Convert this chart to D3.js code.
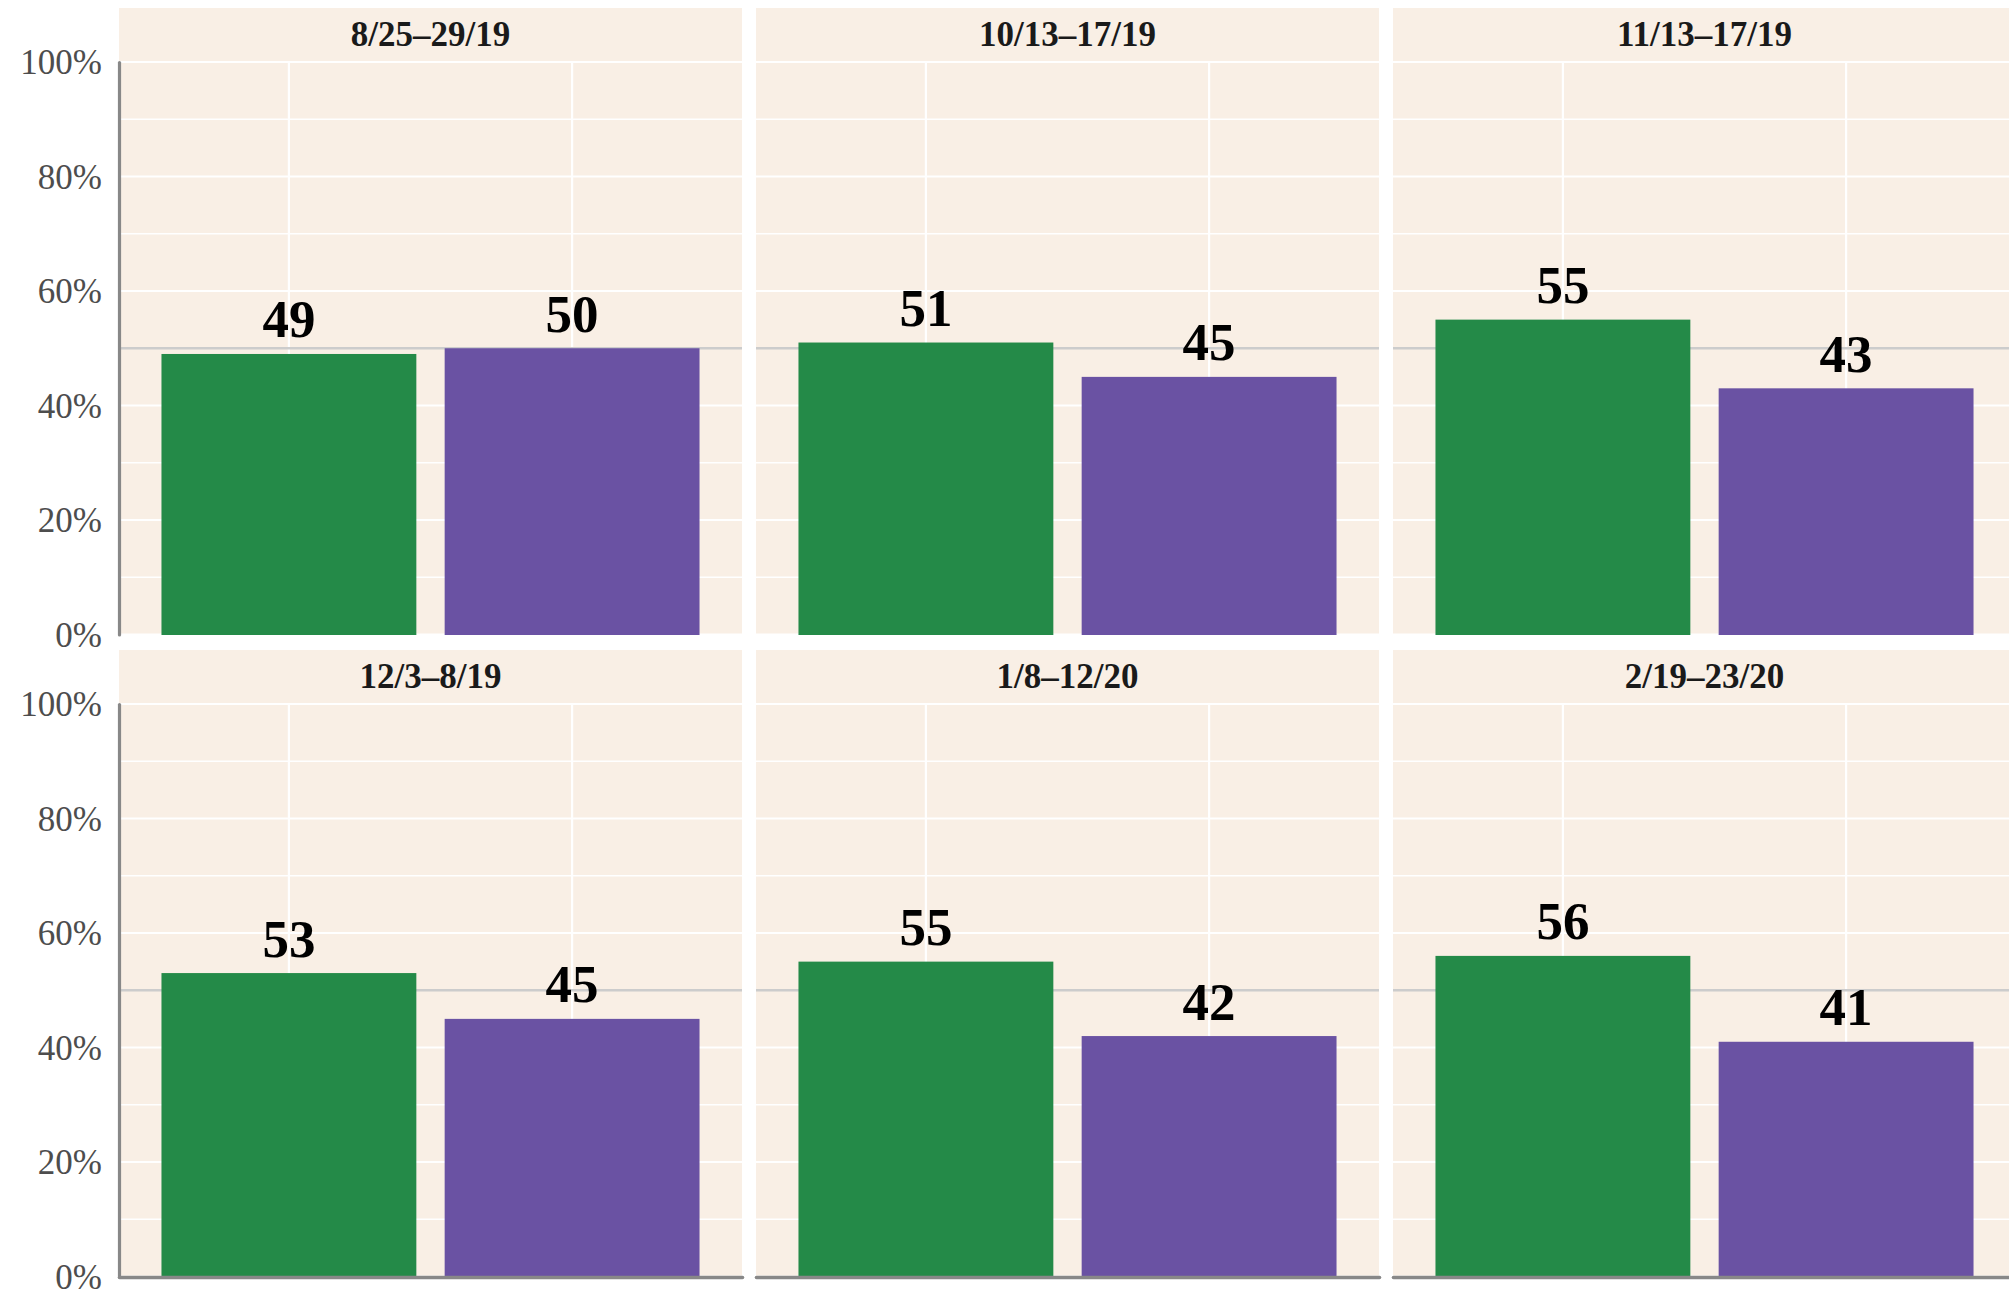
<!DOCTYPE html>
<html>
<head>
<meta charset="utf-8">
<script src="https://cdn.jsdelivr.net/npm/d3@7"></script>
<style>
  html, body { margin: 0; padding: 0; background: #ffffff; }
  svg { display: block; }
</style>
</head>
<body>
<svg id="chart" width="2009" height="1290"></svg>
<script>
// Survey waves, one small panel each
const periods = ["8/25–29/19", "10/13–17/19", "11/13–17/19", "12/3–8/19", "1/8–12/20", "2/19–23/20"];
const seriesKeys = ["first", "second"];
const firstValues = [49, 51, 55, 53, 55, 56];
const secondValues = [50, 45, 43, 45, 42, 41];
const yTicks = [0, 20, 40, 60, 80, 100];
const yMinorTicks = [10, 30, 50, 70, 90];
const referenceLevel = 50;

const colors = { first: "#248a48", second: "#6a52a3" };
const panelBg = "#f9efe5";

// Facet geometry
const nCols = 3;
const marginLeft = 119, marginTop = 8;
const panelW = 623, stripH = 54, plotH = 572.5;
const colStep = 637, rowStep = 642;

const svg = d3.select("#chart");

const x = d3.scaleBand()
  .domain(seriesKeys)
  .range([0, panelW])
  .paddingInner(0.1)
  .paddingOuter(0.15);

const y = d3.scaleLinear()
  .domain([0, 100])
  .range([stripH + plotH, stripH]);

const serif = "'Liberation Serif', 'Times New Roman', Times, serif";

periods.forEach((period, i) => {
  const col = i % nCols, row = Math.floor(i / nCols);
  const nRows = Math.ceil(periods.length / nCols);
  const g = svg.append("g")
    .attr("transform", `translate(${marginLeft + col * colStep},${marginTop + row * rowStep})`);

  // panel + strip background
  g.append("rect")
    .attr("x", 0).attr("y", 0)
    .attr("width", panelW).attr("height", stripH + plotH)
    .attr("fill", panelBg);

  // minor horizontal grid
  g.selectAll("line.minor").data(yMinorTicks).join("line")
    .attr("class", "minor")
    .attr("x1", 0).attr("x2", panelW)
    .attr("y1", d => y(d)).attr("y2", d => y(d))
    .attr("stroke", "#ffffff").attr("stroke-width", 1.4);

  // major horizontal grid
  g.selectAll("line.major").data(yTicks).join("line")
    .attr("class", "major")
    .attr("x1", 0).attr("x2", panelW)
    .attr("y1", d => y(d)).attr("y2", d => y(d))
    .attr("stroke", "#ffffff").attr("stroke-width", 2.2);

  // vertical grid at band centres
  g.selectAll("line.vgrid").data(seriesKeys).join("line")
    .attr("class", "vgrid")
    .attr("x1", d => x(d) + x.bandwidth() / 2).attr("x2", d => x(d) + x.bandwidth() / 2)
    .attr("y1", y(100)).attr("y2", y(0))
    .attr("stroke", "#ffffff").attr("stroke-width", 2.2);

  // 50% reference line
  g.append("line")
    .attr("x1", 0).attr("x2", panelW)
    .attr("y1", y(referenceLevel)).attr("y2", y(referenceLevel))
    .attr("stroke", "#cccccc").attr("stroke-width", 2.6);

  // facet title
  g.append("text")
    .attr("x", panelW / 2).attr("y", 38)
    .attr("text-anchor", "middle")
    .attr("font-family", serif)
    .attr("font-weight", "bold")
    .attr("font-size", 35)
    .attr("fill", "#1a1a1a")
    .text(period);

  const vals = [
    { key: "first", value: firstValues[i] },
    { key: "second", value: secondValues[i] }
  ];

  // bars
  g.selectAll("rect.bar").data(vals).join("rect")
    .attr("class", "bar")
    .attr("x", d => x(d.key))
    .attr("width", x.bandwidth())
    .attr("y", d => y(d.value))
    .attr("height", d => y(0) - y(d.value) + 0.5)
    .attr("fill", d => colors[d.key]);

  // value labels
  g.selectAll("text.val").data(vals).join("text")
    .attr("class", "val")
    .attr("x", d => x(d.key) + x.bandwidth() / 2)
    .attr("y", d => y(d.value) - 16.5)
    .attr("text-anchor", "middle")
    .attr("font-family", serif)
    .attr("font-weight", "bold")
    .attr("font-size", 53)
    .attr("fill", "#000000")
    .text(d => d.value);

  // left axis only on first column
  if (col === 0) {
    const ax = g.append("g")
      .call(d3.axisLeft(y)
        .tickValues(yTicks)
        .tickFormat(d => d + "%")
        .tickSize(0)
        .tickSizeOuter(0)
        .tickPadding(17));
    ax.select(".domain")
      .attr("stroke", "#888888")
      .attr("stroke-width", 3.2)
      .attr("stroke-linecap", "round");
    ax.selectAll("text")
      .attr("font-family", serif)
      .attr("font-size", 35)
      .attr("fill", "#4d4d4d")
      .attr("dy", "0.34em");
  }

  // bottom axis only on last row
  if (row === nRows - 1) {
    const bx = g.append("g")
      .attr("transform", `translate(0,${y(0) + 0.5})`)
      .call(d3.axisBottom(x).tickSize(0).tickSizeOuter(0).tickFormat(""));
    bx.select(".domain")
      .attr("stroke", "#888888")
      .attr("stroke-width", 3.6)
      .attr("stroke-linecap", "round");
  }
});
</script>
</body>
</html>
